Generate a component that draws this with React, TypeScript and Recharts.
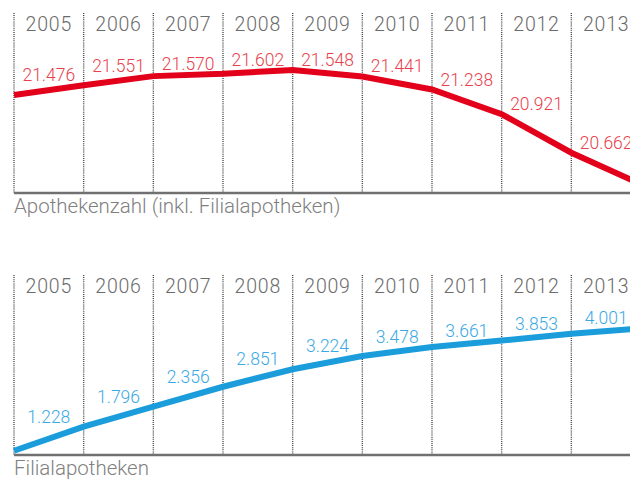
import React from 'react';
import { LineChart, Line, XAxis, YAxis, ReferenceLine, LabelList } from 'recharts';

// years on the boundaries between columns (2004 is the left edge, 2013 runs off the right side)
const years = [2004, 2005, 2006, 2007, 2008, 2009, 2010, 2011, 2012, 2013];
const columnLabels = ['2005', '2006', '2007', '2008', '2009', '2010', '2011', '2012', '2013'];

const apothekenzahl = [21395, 21476, 21551, 21570, 21602, 21548, 21441, 21238, 20921, 20662];
const filialapotheken = [550, 1228, 1796, 2356, 2851, 3224, 3478, 3661, 3853, 4001];

const FONT = 'Roboto, "Liberation Sans", sans-serif';

// 21476 -> "21.476"
const formatDe = (v: number) => {
  const s = String(Math.round(v));
  return s.replace(/\B(?=(\d{3})+(?!\d))/g, '.');
};

interface PanelProps {
  values: number[];
  color: string;
  textColor: string;
  domain: [number, number];
  caption: string;
  top: number;
}

const Panel: React.FC<PanelProps> = ({ values, color, textColor, domain, caption, top }) => {
  const lineData = years.map((year, i) => ({ year, value: values[i] }));
  // value labels sit in the middle of each column, just above the higher end of the segment
  const labelData = years.slice(1).map((year, i) => ({
    year: year - 0.5,
    value: Math.max(values[i], values[i + 1]),
    label: values[i + 1],
  }));
  const columnTicks = years.slice(1).map((y) => y - 0.5);

  return (
    <div style={{ position: 'absolute', left: 0, top, width: 660, height: 225 }}>
      <LineChart
        width={660}
        height={200}
        margin={{ top: 0, right: 19, bottom: 7, left: 14 }}
      >
        <XAxis
          dataKey="year"
          type="number"
          orientation="top"
          domain={[2004, 2013]}
          ticks={columnTicks}
          height={13}
          axisLine={false}
          tickLine={false}
          interval={0}
          tick={(props: any) => {
            const idx = columnTicks.findIndex((t) => Math.abs(t - props.payload.value) < 0.01);
            return (
              <text
                x={props.x}
                y={31}
                textAnchor="middle"
                fill="#6b6b6b"
                style={{ fontFamily: FONT, fontSize: 19.5, fontWeight: 300, letterSpacing: 0.8 }}
              >
                {columnLabels[idx]}
              </text>
            );
          }}
        />
        <YAxis hide type="number" domain={domain} allowDataOverflow />
        {years.map((y) => (
          <ReferenceLine
            key={y}
            x={y}
            stroke="#4a4a4a"
            strokeWidth={1.4}
            strokeDasharray="1 1.1"
          />
        ))}
        <ReferenceLine y={domain[0]} stroke="#707070" strokeWidth={2.5} />
        <Line
          data={lineData}
          dataKey="value"
          type="linear"
          stroke={color}
          strokeWidth={6}
          dot={false}
          activeDot={false}
          isAnimationActive={false}
        />
        <Line
          data={labelData}
          dataKey="value"
          stroke="none"
          dot={false}
          activeDot={false}
          isAnimationActive={false}
        >
          <LabelList
            dataKey="label"
            content={(props: any) => (
              <text
                x={props.x}
                y={props.y - 4}
                textAnchor="middle"
                fill={textColor}
                style={{ fontFamily: FONT, fontSize: 17.5, fontWeight: 300 }}
              >
                {formatDe(props.value)}
              </text>
            )}
          />
        </Line>
      </LineChart>
      <div
        style={{
          position: 'absolute',
          left: 14,
          top: 194,
          fontFamily: FONT,
          fontSize: 20.5,
          fontWeight: 300,
          color: '#808080',
          whiteSpace: 'nowrap',
        }}
      >
        {caption}
      </div>
    </div>
  );
};

export default function App() {
  return (
    <div
      style={{
        position: 'fixed',
        left: 0,
        top: 0,
        width: 630,
        height: 481,
        overflow: 'hidden',
        background: '#fff',
      }}
    >
      <Panel
        values={apothekenzahl}
        color="#e2001a"
        textColor="#e8414b"
        domain={[20590, 22070]}
        caption="Apothekenzahl (inkl. Filialapotheken)"
        top={0}
      />
      <Panel
        values={filialapotheken}
        color="#1b9ddb"
        textColor="#3aa9e4"
        domain={[430, 5510]}
        caption="Filialapotheken"
        top={262}
      />
    </div>
  );
}
